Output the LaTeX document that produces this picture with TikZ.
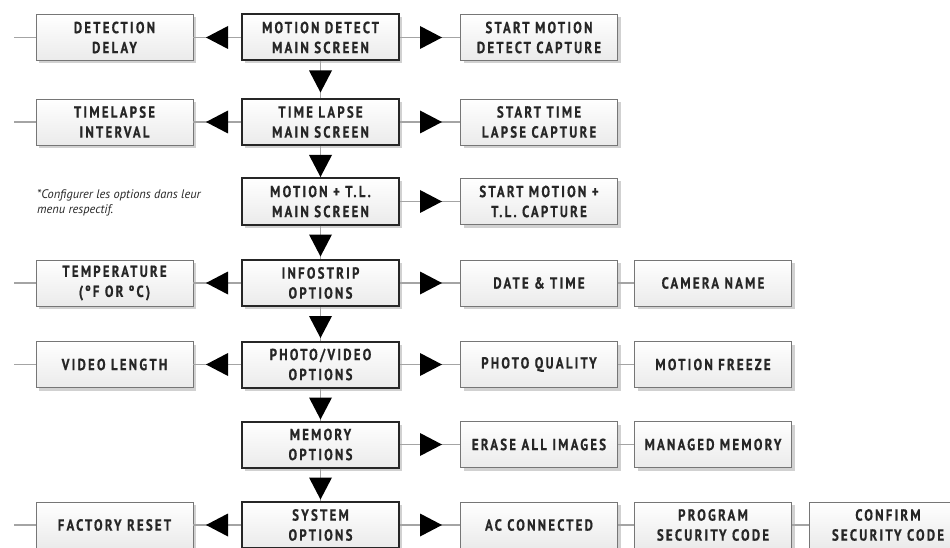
\documentclass[tikz,border=0pt]{standalone}
\usepackage{fontspec}
\usetikzlibrary{shadows,decorations.markings}
\newfontfamily\boxfont[FakeStretch=0.8,LetterSpace=14,BoldFeatures={FakeBold=0.6}]{PT Sans}
\newfontfamily\notefont{PT Sans}
\definecolor{linegray}{HTML}{A4A4A4}
\definecolor{boxedge}{HTML}{767676}
\definecolor{txt}{HTML}{262626}
\tikzset{
  base/.style={rectangle, minimum width=157pt, minimum height=46pt, inner sep=0pt,
    align=center, text=txt, font=\boxfont\bfseries\fontsize{16}{20}\selectfont,
    top color=white, bottom color=black!8,
    drop shadow={shadow xshift=3pt, shadow yshift=-3pt, fill=black!18, opacity=1}},
  sub/.style={base, draw=boxedge, line width=0.8pt},
  mainbox/.style={base, draw=black!85, line width=2pt},
  conn/.style={draw=linegray, line width=1.8pt},
  arrowat/.style={conn, postaction={decorate}, decoration={markings,
    mark=at position #1 with {\fill[black] (0pt,0pt) -- (-22pt,11.5pt) -- (-22pt,-11.5pt) -- cycle;}}},
}
\begin{document}
\begin{tikzpicture}[x=1pt,y=-1pt]
\useasboundingbox (0,0) rectangle (950,548);
\clip (0,0) rectangle (950,548);
% main column
\node[mainbox] (m1) at (320.5,37.5) {MOTION DETECT\\MAIN SCREEN};
\node[mainbox] (m2) at (320.5,122) {TIME LAPSE\\MAIN SCREEN};
\node[mainbox] (m3) at (320.5,201.5) {MOTION + T.L.\\MAIN SCREEN};
\node[mainbox] (m4) at (320.5,283) {INFOSTRIP\\OPTIONS};
\node[mainbox] (m5) at (320.5,364.5) {PHOTO/VIDEO\\OPTIONS};
\node[mainbox] (m6) at (320.5,444.5) {MEMORY\\OPTIONS};
\node[mainbox] (m7) at (320.5,525) {SYSTEM\\OPTIONS};
% left column
\node[sub] (l1) at (114.5,37.5) {DETECTION\\DELAY};
\node[sub] (l2) at (114.5,122) {TIMELAPSE\\INTERVAL};
\node[sub] (l4) at (114.5,283) {TEMPERATURE\\(ºF OR ºC)};
\node[sub] (l5) at (114.5,364.5) {VIDEO LENGTH};
\node[sub] (l7) at (114.5,525) {FACTORY RESET};
% right columns
\node[sub] (a1) at (539,37.5) {START MOTION\\DETECT CAPTURE};
\node[sub] (a2) at (539,122) {START TIME\\LAPSE CAPTURE};
\node[sub] (a3) at (539,201.5) {START MOTION +\\T.L. CAPTURE};
\node[sub] (a4) at (539,283) {DATE \& TIME};
\node[sub] (b4) at (713,283) {CAMERA NAME};
\node[sub] (a5) at (539,364.5) {PHOTO QUALITY};
\node[sub] (b5) at (713,364.5) {MOTION FREEZE};
\node[sub] (a6) at (539,444.5) {ERASE ALL IMAGES};
\node[sub] (b6) at (713,444.5) {MANAGED MEMORY};
\node[sub] (a7) at (539,525) {AC CONNECTED};
\node[sub] (b7) at (713,525) {PROGRAM\\SECURITY CODE};
\node[sub] (c7) at (888,525) {CONFIRM\\SECURITY CODE};
% note
\node[anchor=north west, align=left, inner sep=0pt, text=txt,
  font=\notefont\itshape\fontsize{12.4}{15.5}\selectfont] (note) at (37,189)
  {*Configurer les options dans leur\\menu respectif.};
% free ends
\coordinate (e1) at (14,37.5);
\coordinate (e2) at (14,122);
\coordinate (e4) at (14,283);
\coordinate (e5) at (14,364.5);
\coordinate (e7) at (14,525);
% stubs
\foreach \i in {1,2,4,5,7} {\path[conn] (l\i.west) -- (e\i);}
% left arrows
\foreach \i in {1,2,4,5,7} {\path[arrowat=35pt] (m\i.west) -- (l\i.east);}
% right arrows
\foreach \i in {1,...,7} {\path[arrowat=42pt] (m\i.east) -- (a\i.west);}
% chains
\foreach \i in {4,...,7} {\path[conn] (a\i.east) -- (b\i.west);}
\path[conn] (b7.east) -- (c7.west);
% down arrows
\foreach \i/\j in {1/2,2/3,3/4,4/5,5/6,6/7} {\path[arrowat=31pt] (m\i.south) -- (m\j.north);}
\end{tikzpicture}
\end{document}
